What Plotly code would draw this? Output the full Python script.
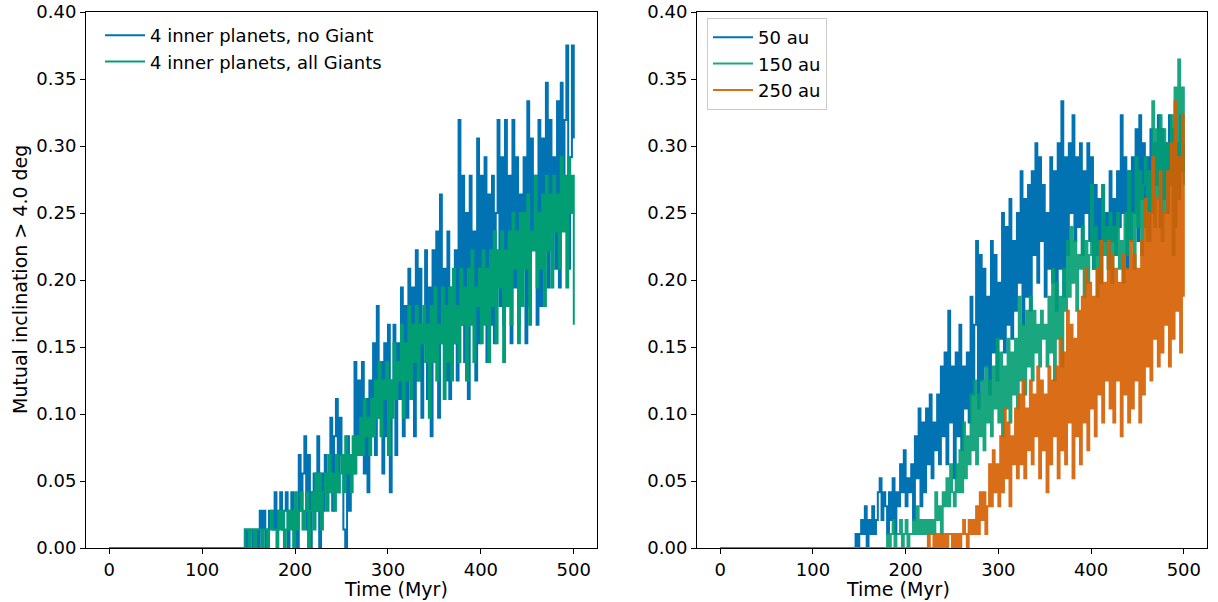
import plotly.graph_objects as go

# Fraction of systems with mutual inclination > 4 deg, stored as counts of
# systems per 2 Myr output step. Left panel: 72 systems, right panel: 96.
N_LEFT = 72
N_RIGHT = 96
STEP_MYR = 2

# ---- left panel -------------------------------------------------------
no_giant_start = 144
no_giant_counts = [
    0, 1, 0, 1, 1, 0, 1, 1, 0, 2,
    1, 2, 0, 1, 2, 2, 1, 3, 1, 2,
    3, 1, 2, 3, 0, 2, 3, 1, 2, 0,
    5, 2, 4, 6, 1, 5, 0, 3, 4, 2,
    6, 0, 4, 2, 5, 3, 4, 7, 2, 6,
    8, 3, 7, 5, 1, 0, 6, 2, 5, 4,
    10, 5, 9, 6, 10, 4, 8, 3, 9, 6,
    11, 5, 13, 7, 10, 4, 11, 6, 12, 3,
    9, 12, 5, 11, 8, 14, 6, 13, 7, 15,
    10, 14, 6, 16, 9, 15, 7, 12, 16, 8,
    14, 6, 16, 10, 17, 7, 19, 11, 15, 9,
    17, 8, 14, 11, 16, 9, 23, 12, 20, 10,
    18, 8, 20, 13, 17, 9, 22, 11, 20, 14,
    21, 10, 19, 12, 20, 11, 18, 23, 13, 21,
    12, 23, 16, 20, 11, 23, 14, 21, 12, 19,
    15, 21, 11, 24, 13, 22, 16, 20, 12, 23,
    13, 22, 16, 25, 14, 23, 17, 21, 15, 24,
    14, 25, 18, 23, 27, 15, 21, 27, 22,
]

all_giants_start = 144
all_giants_counts = [
    0, 1, 1, 0, 1, 1, 0, 1, 1, 1,
    0, 1, 1, 0, 1, 2, 1, 1, 0, 2,
    1, 2, 0, 1, 2, 1, 2, 0, 3, 1,
    2, 3, 1, 2, 3, 0, 2, 3, 1, 4,
    2, 4, 1, 3, 4, 2, 5, 3, 4, 2,
    5, 3, 4, 5, 3, 6, 4, 5, 3, 6,
    4, 6, 5, 7, 5, 8, 6, 7, 5, 8,
    6, 9, 7, 10, 6, 9, 8, 10, 5, 9,
    7, 11, 8, 10, 9, 12, 7, 11, 9, 13,
    8, 12, 10, 13, 9, 12, 11, 13, 10, 12,
    7, 13, 10, 14, 9, 12, 11, 14, 8, 13,
    10, 14, 9, 15, 11, 13, 10, 15, 12, 14,
    9, 15, 12, 16, 10, 14, 13, 15, 11, 16,
    12, 15, 10, 16, 13, 17, 11, 16, 14, 17,
    10, 16, 13, 17, 12, 18, 15, 17, 11, 18,
    13, 18, 15, 19, 12, 17, 16, 20, 14, 18,
    15, 19, 13, 20, 16, 19, 14, 20, 17, 19,
    15, 21, 17, 20, 14, 21, 18, 20, 12,
]

# ---- right panel ------------------------------------------------------
au50_start = 144
au50_counts = [
    0, 1, 0, 1, 2, 1, 3, 0, 2, 1,
    3, 1, 2, 4, 5, 2, 4, 3, 1, 4,
    2, 5, 1, 4, 3, 6, 4, 7, 3, 5,
    4, 6, 2, 8, 5, 10, 3, 9, 4, 10,
    6, 11, 5, 9, 7, 11, 6, 13, 8, 14,
    6, 17, 9, 13, 5, 14, 8, 16, 7, 13,
    10, 14, 9, 18, 11, 16, 22, 10, 21, 12,
    20, 13, 18, 11, 22, 14, 21, 12, 19, 15,
    24, 14, 23, 16, 25, 15, 22, 17, 24, 19,
    27, 16, 25, 18, 26, 17, 27, 21, 29, 19,
    28, 22, 26, 18, 24, 20, 28, 19, 27, 17,
    29, 20, 32, 18, 28, 21, 29, 24, 31, 22,
    28, 23, 29, 21, 27, 24, 29, 22, 28, 20,
    26, 21, 25, 19, 26, 22, 24, 20, 27, 22,
    25, 21, 27, 23, 31, 24, 28, 20, 27, 22,
    28, 24, 30, 22, 31, 25, 29, 23, 28, 22,
    30, 24, 29, 26, 31, 23, 30, 25, 29, 24,
    31, 26, 30, 23, 29, 25, 31, 27, 29,
]

au150_start = 178
au150_counts = [
    0, 1, 0, 1, 2, 0, 1, 1, 2, 0,
    1, 2, 0, 1, 1, 2, 1, 3, 1, 2,
    1, 2, 1, 2, 1, 2, 1, 4, 2, 3,
    1, 4, 3, 5, 3, 6, 4, 3, 6, 4,
    7, 4, 9, 5, 8, 6, 11, 7, 12, 6,
    11, 8, 12, 7, 13, 9, 12, 8, 13, 10,
    15, 9, 14, 8, 13, 10, 15, 9, 14, 11,
    15, 10, 18, 12, 16, 11, 17, 13, 18, 12,
    17, 14, 16, 13, 17, 15, 16, 13, 18, 14,
    20, 12, 19, 15, 18, 13, 20, 17, 22, 18,
    23, 19, 22, 17, 21, 20, 23, 18, 22, 19,
    21, 26, 20, 23, 18, 22, 19, 26, 21, 23,
    20, 24, 19, 23, 21, 24, 20, 22, 19, 24,
    21, 27, 22, 24, 20, 28, 23, 27, 21, 26,
    28, 22, 27, 24, 32, 23, 30, 25, 31, 22,
    30, 24, 29, 26, 31, 21, 33, 25, 35, 27,
    33, 26,
]

au250_start = 222
au250_counts = [
    0, 1, 0, 0, 1, 0, 1, 0, 1, 0,
    1, 0, 1, 1, 0, 1, 0, 1, 0, 1,
    2, 1, 0, 2, 1, 2, 1, 3, 1, 4,
    2, 4, 1, 3, 6, 3, 7, 4, 6, 3,
    8, 4, 10, 5, 9, 3, 8, 6, 10, 5,
    11, 6, 12, 5, 10, 7, 12, 6, 11, 8,
    13, 5, 12, 7, 11, 4, 13, 6, 12, 8,
    13, 5, 15, 7, 14, 6, 17, 9, 16, 5,
    15, 8, 17, 6, 18, 9, 20, 7, 19, 10,
    18, 8, 20, 11, 22, 9, 19, 12, 22, 10,
    21, 9, 20, 12, 19, 8, 21, 11, 20, 9,
    22, 10, 21, 12, 20, 9, 22, 11, 25, 13,
    24, 12, 28, 15, 25, 13, 27, 14, 24, 16,
    27, 13, 29, 15, 32, 17, 28, 14, 31, 18,
]

BLUE = "#0173b2"
GREEN = "#029e73"
ORANGE = "#d55e00"

FONT = "DejaVu Sans"


def series(start, counts, n_sys):
    """Time axis (0 then regular steps from the first active output) and fractions."""
    t = [0] + [start + STEP_MYR * i for i in range(len(counts))]
    f = [0.0] + [c / n_sys for c in counts]
    return t, f


fig = go.Figure()

left = [
    ("4 inner planets, no Giant", no_giant_start, no_giant_counts, BLUE, 1.0),
    ("4 inner planets, all Giants", all_giants_start, all_giants_counts, GREEN, 1.0),
]
for name, start, counts, color, op in left:
    t, f = series(start, counts, N_LEFT)
    fig.add_trace(go.Scatter(x=t, y=f, mode="lines", name=name, opacity=op,
                             line=dict(color=color, width=2, shape="hv"),
                             xaxis="x", yaxis="y", legend="legend"))

right = [
    ("50 au", au50_start, au50_counts, BLUE, 1.0),
    ("150 au", au150_start, au150_counts, GREEN, 0.9),
    ("250 au", au250_start, au250_counts, ORANGE, 0.9),
]
for name, start, counts, color, op in right:
    t, f = series(start, counts, N_RIGHT)
    fig.add_trace(go.Scatter(x=t, y=f, mode="lines", name=name, opacity=op,
                             line=dict(color=color, width=2, shape="hv"),
                             xaxis="x2", yaxis="y2", legend="legend2"))

W, H = 1218, 602
ydom = [1 - 548 / H, 1 - 12 / H]
xdom1 = [86 / W, 597 / W]
xdom2 = [697 / W, 1207 / W]

axis_common = dict(showline=True, linecolor="black", linewidth=1, mirror=True,
                   ticks="outside", ticklen=5, tickwidth=1, tickcolor="black",
                   showgrid=False, zeroline=False, automargin=False,
                   tickfont=dict(family=FONT, size=18, color="black"))

xcommon = dict(axis_common, range=[-25, 525], tickvals=[0, 100, 200, 300, 400, 500])
ycommon = dict(axis_common, range=[0, 0.40], tickvals=[i * 0.05 for i in range(9)],
               tickformat=".2f")

fig.update_layout(
    width=W, height=H,
    margin=dict(l=0, r=0, t=0, b=0),
    paper_bgcolor="white", plot_bgcolor="white",
    font=dict(family=FONT, color="black"),
    xaxis=dict(xcommon, domain=xdom1, anchor="y"),
    yaxis=dict(ycommon, domain=ydom, anchor="x"),
    xaxis2=dict(xcommon, domain=xdom2, anchor="y2"),
    yaxis2=dict(ycommon, domain=ydom, anchor="x2"),
    legend=dict(x=100 / W, y=1 - 17 / H, xanchor="left", yanchor="top",
                bgcolor="rgba(0,0,0,0)", borderwidth=0, itemwidth=40,
                font=dict(family=FONT, size=18, color="black")),
    legend2=dict(x=707 / W, y=1 - 18 / H, xanchor="left", yanchor="top",
                 bgcolor="rgba(255,255,255,0.8)", bordercolor="#cccccc", borderwidth=1,
                 itemwidth=40,
                 font=dict(family=FONT, size=18, color="black")),
    annotations=[
        dict(text="Time (Myr)", x=(xdom1[0] + xdom1[1]) / 2, y=1 - 589 / H,
             xref="paper", yref="paper", showarrow=False, yanchor="middle",
             font=dict(family=FONT, size=19, color="black")),
        dict(text="Time (Myr)", x=(xdom2[0] + xdom2[1]) / 2, y=1 - 589 / H,
             xref="paper", yref="paper", showarrow=False, yanchor="middle",
             font=dict(family=FONT, size=19, color="black")),
        dict(text="Mutual inclination > 4.0 deg", x=20 / W, y=(ydom[0] + ydom[1]) / 2,
             xref="paper", yref="paper", showarrow=False, textangle=-90,
             xanchor="center", yanchor="middle",
             font=dict(family=FONT, size=19, color="black")),
    ],
)

fig.write_html("out.html")
